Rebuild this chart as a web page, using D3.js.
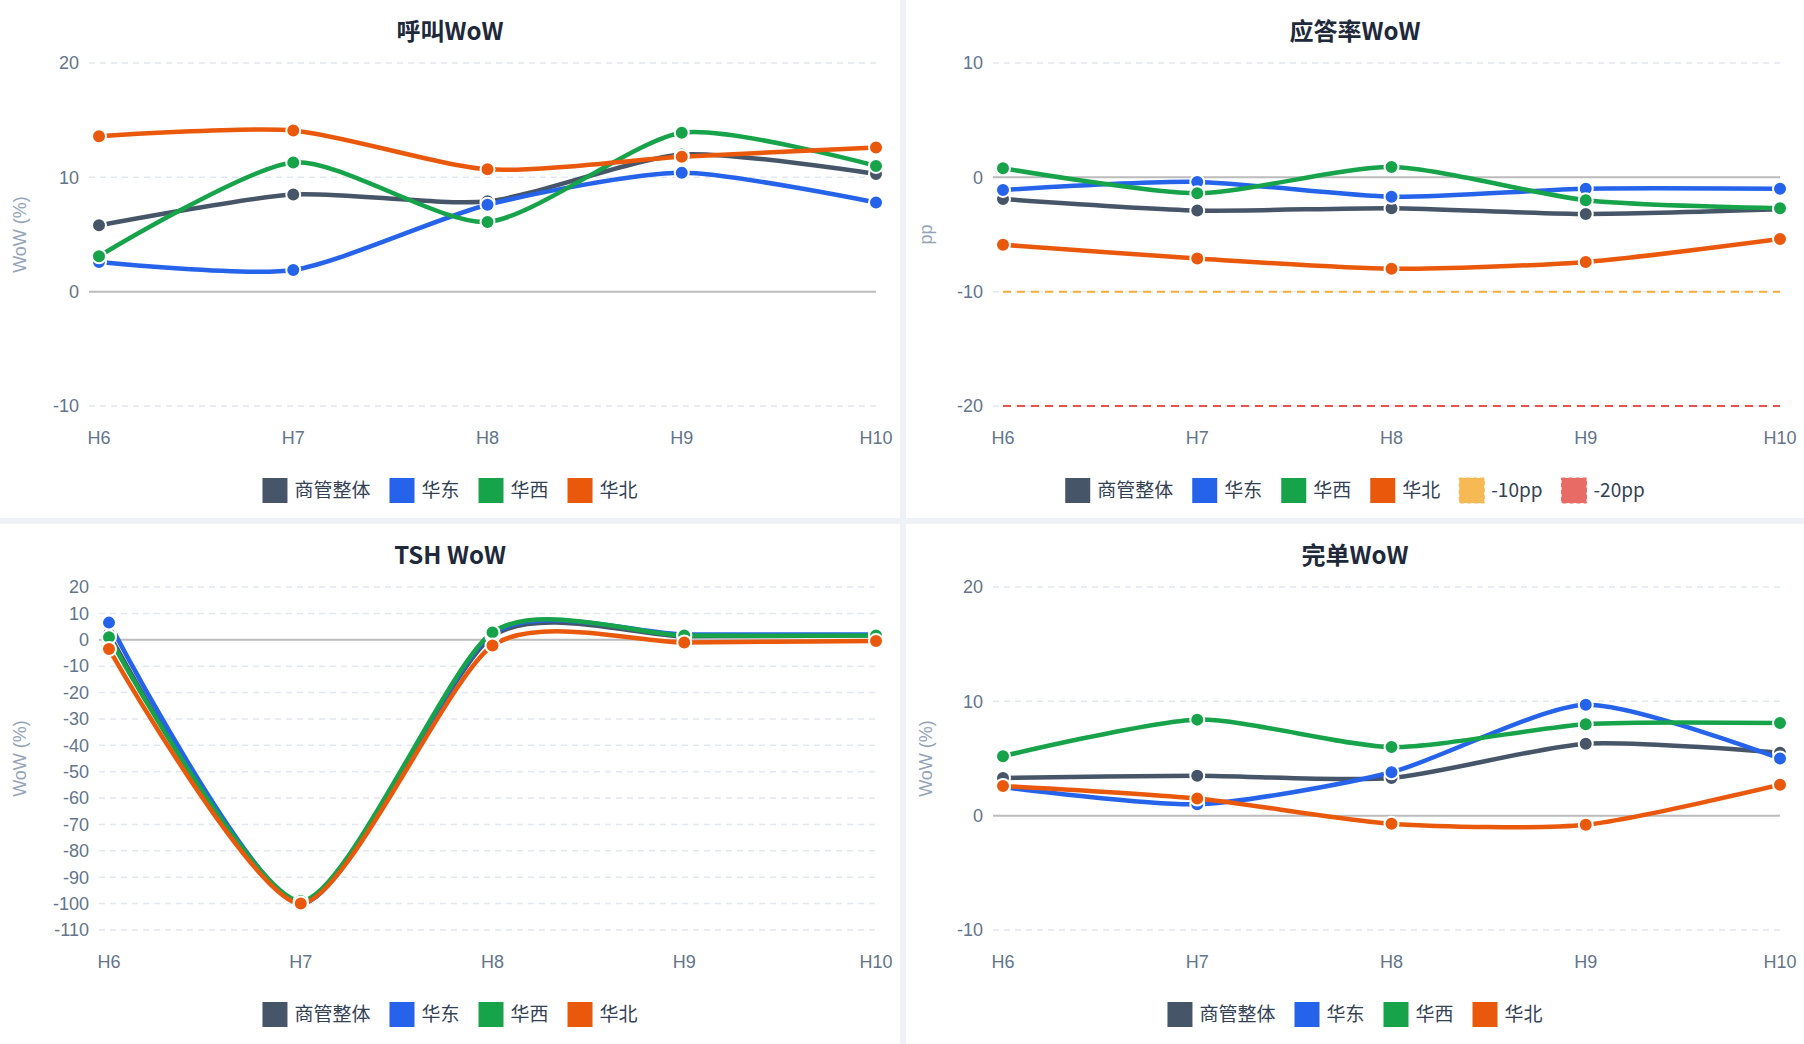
<!DOCTYPE html>
<html><head><meta charset="utf-8">
<script src="https://cdn.jsdelivr.net/npm/d3@7"></script>
<style>body{margin:0;background:#eef1f5;font-family:"Noto Sans CJK SC",Roboto,sans-serif}</style>
</head><body><svg id="c" width="1804" height="1044"></svg>
<script>
const hours = ["H6","H7","H8","H9","H10"];
const seriesNames = ["商管整体","华东","华西","华北"];
const colors = ["#475569","#2563eb","#16a34a","#ea580c"];
const callVals = [[5.8,8.5,7.9,12,10.3],[2.6,1.9,7.6,10.4,7.8],[3.1,11.3,6.1,13.9,11],[13.6,14.1,10.7,11.8,12.6]];
const answerVals = [[-1.9,-2.9,-2.7,-3.2,-2.8],[-1.1,-0.4,-1.7,-1,-1],[0.8,-1.4,0.9,-2,-2.7],[-5.9,-7.1,-8,-7.4,-5.4]];
const tshVals = [[2.2,-100,1.3,1.3,1.7],[6.5,-100,2.2,2,2],[1,-99,2.8,1.6,1.6],[-3.5,-100,-2.2,-1,-0.5]];
const doneVals = [[3.3,3.5,3.3,6.3,5.5],[2.5,1,3.8,9.7,5],[5.2,8.4,6,8,8.1],[2.6,1.5,-0.7,-0.8,2.7]];
const refLines = [{v:-10,name:"-10pp",color:"#f6ad37"},{v:-20,name:"-20pp",color:"#e5534b"}];

const svg = d3.select("#c");
const panels = [
 {title:"呼叫WoW",vals:callVals,dom:[-10,20],ticks:[-10,0,10,20],yt:"WoW (%)",x0:0,y0:0,w:900,h:518,l:99,r:876,t:63,b:406,refs:[]},
 {title:"应答率WoW",vals:answerVals,dom:[-20,10],ticks:[-20,-10,0,10],yt:"pp",x0:906,y0:0,w:898,h:518,l:1003,r:1780,t:63,b:406,refs:refLines},
 {title:"TSH WoW",vals:tshVals,dom:[-110,20],ticks:d3.range(-110,21,10),yt:"WoW (%)",x0:0,y0:524,w:900,h:520,l:109,r:876,t:587,b:930,refs:[]},
 {title:"完单WoW",vals:doneVals,dom:[-10,20],ticks:[-10,0,10,20],yt:"WoW (%)",x0:906,y0:524,w:898,h:520,l:1003,r:1780,t:587,b:930,refs:[]}
];
panels.forEach(p=>{
  const g = svg.append("g");
  g.append("rect").attr("x",p.x0).attr("y",p.y0).attr("width",p.w).attr("height",p.h).attr("fill","#fff");
  const cx = p.x0 + p.w/2;
  g.append("text").attr("x",cx).attr("y",p.y0+40).attr("text-anchor","middle").attr("font-size",24).attr("font-weight","bold").attr("fill","#1e293b").text(p.title);
  const x = d3.scalePoint().domain(hours).range([p.l,p.r]);
  const y = d3.scaleLinear().domain(p.dom).range([p.b,p.t]);
  p.ticks.forEach(t=>{
    g.append("line").attr("x1",p.l-10).attr("x2",p.r).attr("y1",y(t)).attr("y2",y(t))
     .attr("stroke",t===0?"#bbb":"#e2e8f0").attr("stroke-width",t===0?2:1.5).attr("stroke-dasharray",t===0?null:"6,5");
    g.append("text").attr("x",p.l-20).attr("y",y(t)).attr("dy","0.35em").attr("text-anchor","end").attr("font-size",18).attr("fill","#64748b").attr("font-family","Liberation Sans, sans-serif").text(t);
  });
  hours.forEach(h=>g.append("text").attr("x",x(h)).attr("y",p.b+38).attr("text-anchor","middle").attr("font-size",18).attr("fill","#64748b").attr("font-family","Liberation Sans, sans-serif").text(h));
  g.append("text").attr("transform",`translate(${p.x0+26},${(p.t+p.b)/2}) rotate(-90)`).attr("text-anchor","middle").attr("font-size",18).attr("fill","#94a3b8").attr("font-family","Liberation Sans, sans-serif").text(p.yt);
  p.refs.forEach(r=>g.append("line").attr("x1",p.l).attr("x2",p.r).attr("y1",y(r.v)).attr("y2",y(r.v)).attr("stroke",r.color).attr("stroke-width",2).attr("stroke-dasharray","8,6"));
  const line = d3.line().x((d,i)=>x(hours[i])).y(d=>y(d)).curve(d3.curveCardinal.tension(0.3));
  p.vals.forEach((vs,si)=>{
    g.append("path").attr("d",line(vs)).attr("fill","none").attr("stroke",colors[si]).attr("stroke-width",4.5);
  });
  p.vals.forEach((vs,si)=>{
    vs.forEach((v,i)=>g.append("circle").attr("cx",x(hours[i])).attr("cy",y(v)).attr("r",7).attr("fill",colors[si]).attr("stroke","#fff").attr("stroke-width",2));
  });
  // legend
  const items = seriesNames.map((n,i)=>({n,c:colors[i],dash:false})).concat(p.refs.map(r=>({n:r.name,c:r.color,dash:true})));
  const lg = g.append("g");
  let xx = 0;
  items.forEach(it=>{
    lg.append("rect").attr("x",xx).attr("y",-12).attr("width",25).attr("height",25).attr("fill",it.c).attr("opacity",it.dash?0.85:1)
      .attr("stroke",it.dash?it.c:"none").attr("stroke-dasharray",it.dash?"4,3":null);
    const tx = lg.append("text").attr("x",xx+32).attr("y",0).attr("dy","0.35em").attr("font-size",19).attr("fill","#334155").text(it.n);
    xx += 32 + tx.node().getComputedTextLength() + 19;
  });
  xx -= 19;
  lg.attr("transform",`translate(${cx-xx/2},${p.y0+490})`);
});
</script></body></html>
